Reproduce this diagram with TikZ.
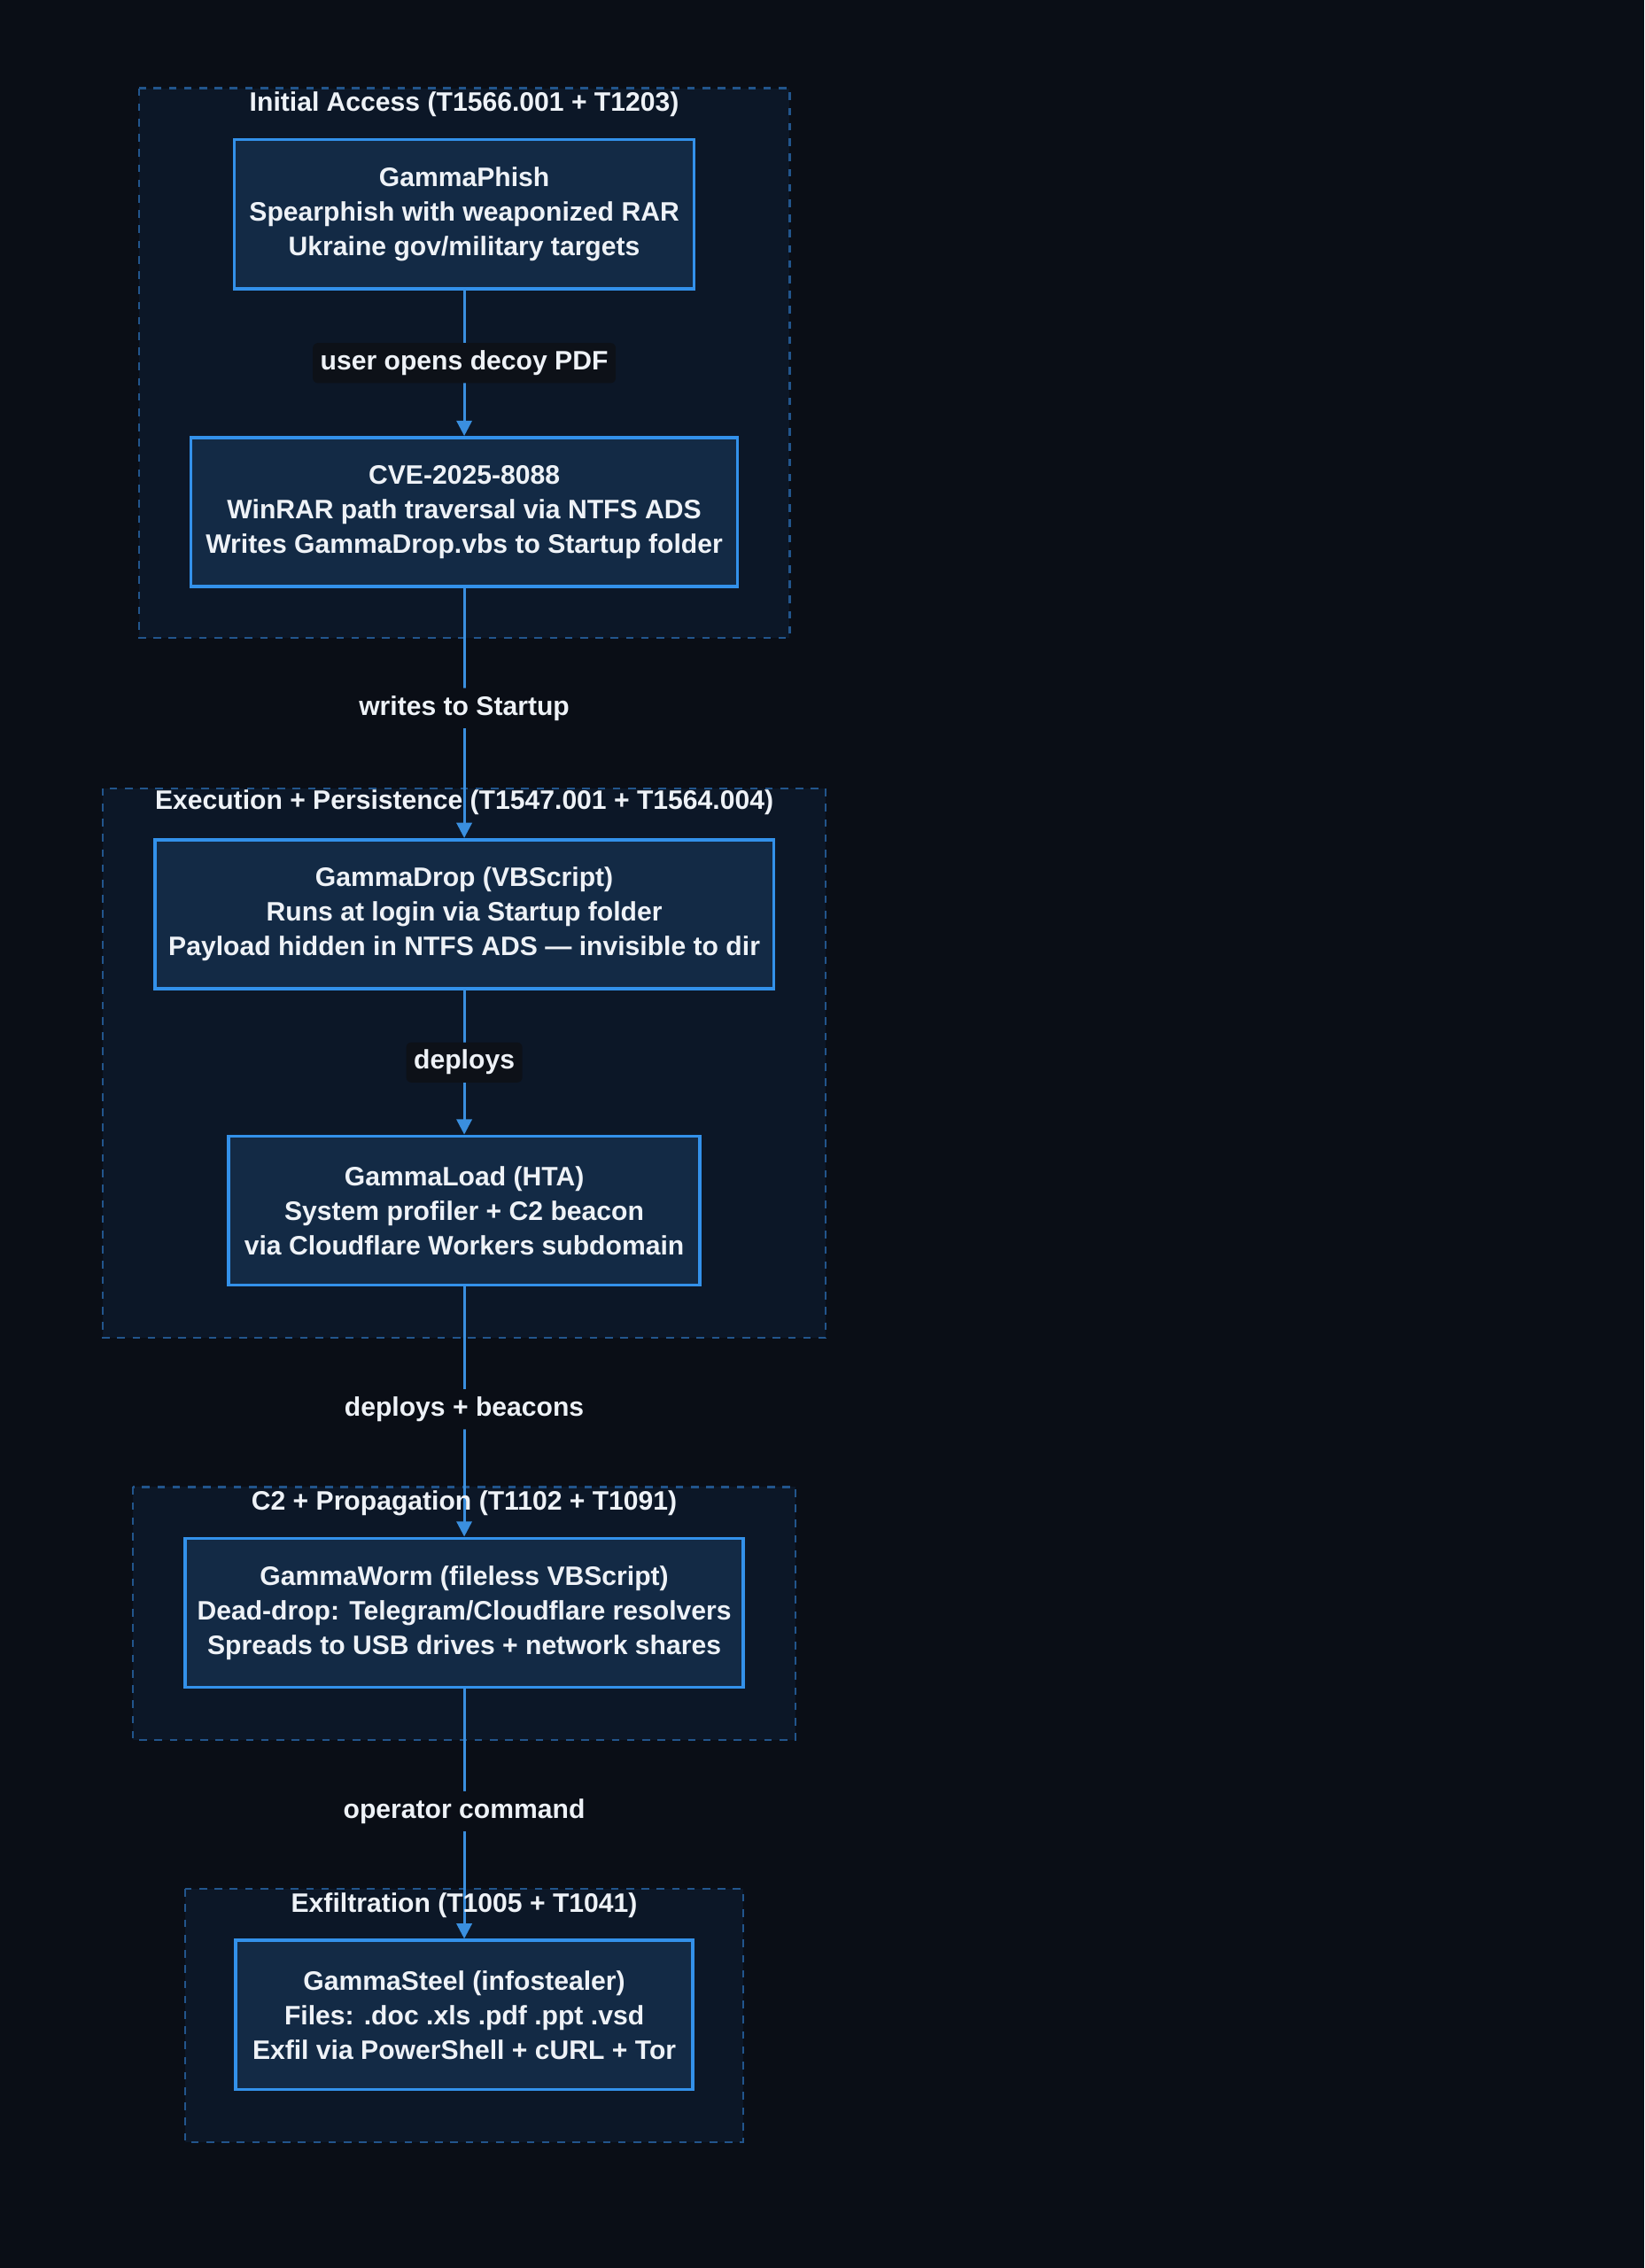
\documentclass[tikz,border=0pt]{standalone}
\usepackage{fontspec}
\setmainfont{Liberation Sans}
\usetikzlibrary{arrows.meta}
\definecolor{bgcol}{HTML}{0A0E16}
\definecolor{clfill}{HTML}{0C1727}
\definecolor{cldraw}{HTML}{22558C}
\definecolor{ndfill}{HTML}{132A45}
\definecolor{nddraw}{HTML}{3391EA}
\definecolor{edgecol}{HTML}{3A8FDF}
\definecolor{lblfill}{HTML}{0D1118}
\definecolor{txtcol}{HTML}{EEF2F7}
\tikzset{
  stagebox/.style = {draw = nddraw, fill = ndfill, line width = 1.3pt, align = center, text = txtcol,
    font = \bfseries\fontsize{10.5}{13.6}\selectfont, minimum height = 2.06cm, inner sep = 0pt},
  cluster/.style = {draw = cldraw, fill = clfill, dashed, line width = 0.8pt},
  cltitle/.style = {text = txtcol, font = \bfseries\fontsize{10.5}{12}\selectfont, inner sep = 1pt},
  edgelbl/.style = {fill = lblfill, text = txtcol, rounded corners = 2pt, font = \bfseries\fontsize{10.5}{12}\selectfont, inner sep = 3pt},
  flow/.style = {draw = edgecol, line width = 1pt, -{Triangle[length = 6pt, width = 6pt]}}
}
\begin{document}
\begin{tikzpicture}[x = 0.02cm, y = -0.02cm]
  \fill[bgcol] (0,0) rectangle (1137,1568);
  \useasboundingbox (0,0) rectangle (1137,1568);

  % clusters
  \draw[cluster] (96,61) rectangle (546,441);
  \draw[cluster] (71,545) rectangle (571,925);
  \draw[cluster] (92,1028) rectangle (550,1203);
  \draw[cluster] (128,1306) rectangle (514,1481);

  % stages
  \node[stagebox, minimum width = 6.36cm] (phish) at (321,148) {GammaPhish\\Spearphish with weaponized RAR\\Ukraine gov/military targets};
  \node[stagebox, minimum width = 7.56cm] (cve) at (321,354) {CVE-2025-8088\\WinRAR path traversal via NTFS ADS\\Writes GammaDrop.vbs to Startup folder};
  \node[stagebox, minimum width = 8.56cm] (drop) at (321,632) {GammaDrop (VBScript)\\Runs at login via Startup folder\\Payload hidden in NTFS ADS — invisible to dir};
  \node[stagebox, minimum width = 6.52cm] (load) at (321,837) {GammaLoad (HTA)\\System profiler + C2 beacon\\via Cloudflare Workers subdomain};
  \node[stagebox, minimum width = 7.72cm] (worm) at (321,1115) {GammaWorm (fileless VBScript)\\Dead-drop: Telegram/Cloudflare resolvers\\Spreads to USB drives + network shares};
  \node[stagebox, minimum width = 6.32cm] (steel) at (321,1393) {GammaSteel (infostealer)\\Files: .doc .xls .pdf .ppt .vsd\\Exfil via PowerShell + cURL + Tor};

  % connectors
  \draw[flow] (phish) -- node[edgelbl]{user opens decoy PDF} (cve);
  \draw[flow] (cve) -- node[edgelbl, fill = bgcol, pos = 0.48]{writes to Startup} (drop);
  \draw[flow] (drop) -- node[edgelbl]{deploys} (load);
  \draw[flow] (load) -- node[edgelbl, fill = bgcol, pos = 0.49]{deploys + beacons} (worm);
  \draw[flow] (worm) -- node[edgelbl, fill = bgcol, pos = 0.49]{operator command} (steel);

  % cluster titles
  \node[cltitle] (t1) at (321,72) {Initial Access (T1566.001 + T1203)};
  \node[cltitle] (t2) at (321,555) {Execution + Persistence (T1547.001 + T1564.004)};
  \node[cltitle] (t3) at (321,1039) {C2 + Propagation (T1102 + T1091)};
  \node[cltitle] (t4) at (321,1317) {Exfiltration (T1005 + T1041)};
\end{tikzpicture}
\end{document}
